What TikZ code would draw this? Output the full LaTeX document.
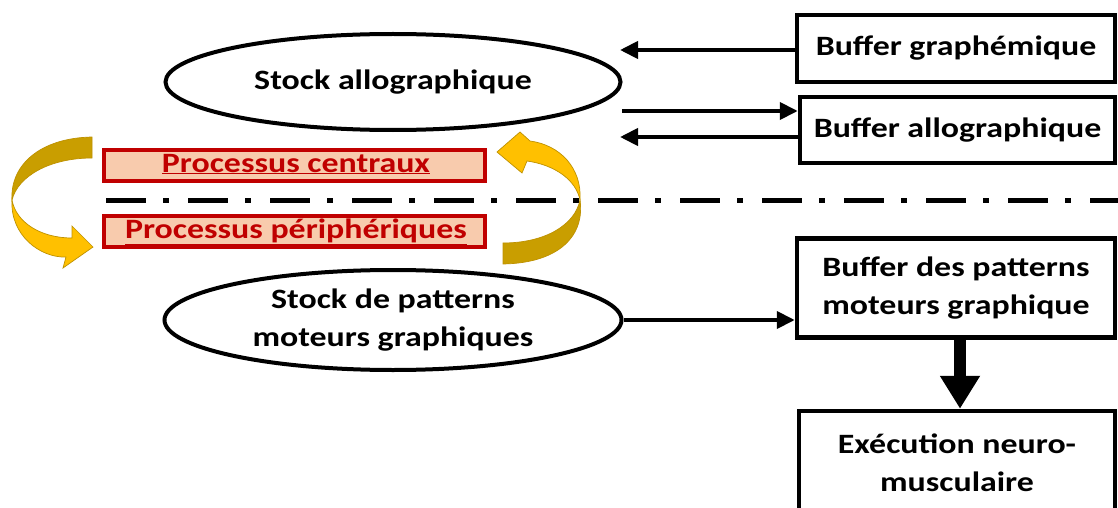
\documentclass[tikz,border=0pt]{standalone}
\usepackage{fontspec}
\setmainfont{Carlito}[FakeStretch=1.21]
\usetikzlibrary{arrows.meta,shapes.geometric}
\definecolor{boxred}{RGB}{192,0,0}
\definecolor{peach}{RGB}{248,203,173}
\definecolor{goldA}{RGB}{255,192,0}
\definecolor{goldB}{RGB}{201,158,0}
\definecolor{goldE}{RGB}{190,145,0}
\begin{document}
\begin{tikzpicture}[x=1pt,y=-1pt,
  lbl/.style={font=\bfseries\fontsize{28}{38}\selectfont, align=center, text=black},
  ebox/.style={draw, line width=4pt, ellipse, inner sep=0pt, lbl},
  rbox/.style={draw, line width=4.5pt, rectangle, inner sep=0pt, lbl},
  pbox/.style={fill=peach, inner sep=0pt, minimum width=381pt, minimum height=31pt},
  pborder/.style={draw=boxred, line width=4pt},
  ptext/.style={font=\bfseries\fontsize{28}{32}\selectfont, text=boxred, inner sep=0pt},
  conn/.style={line width=4pt, -{Triangle[length=18pt,width=17pt]}},
  bigconn/.style={line width=12pt, -{Triangle[length=33pt,width=38pt]}},
  sep/.style={line width=5pt, dash pattern=on 40pt off 17pt on 6pt off 19pt},
  goldlight/.style={fill=goldA, draw=goldE, line width=0.7pt},
  golddark/.style={fill=goldB, draw=goldE, line width=0.7pt}
]
\clip (0,0) rectangle (1118,508);
\fill[white] (0,0) rectangle (1118,508);

% ellipses
\node[ebox, minimum width=455pt, minimum height=96pt] (e1) at (393,82) {Stock allographique};
\node[ebox, minimum width=457pt, minimum height=100pt] (e2) at (393,320) {Stock de patterns\\moteurs graphiques};

% right boxes
\node[rbox, minimum width=318pt, minimum height=67pt] (b1) at (956,48.5) {Buffer graphémique};
\node[rbox, minimum width=315pt, minimum height=66pt] (b2) at (957.5,130) {Buffer allographique};
\node[rbox, minimum width=318pt, minimum height=99pt] (b3) at (956,288) {Buffer des patterns\\moteurs graphique};
\node[rbox, minimum width=316pt, minimum height=104pt] (b4) at (957,463) {Exécution neuro-\\musculaire};

% connectors
\coordinate (t1) at (620,50);
\coordinate (s2) at (622,111);
\coordinate (t3) at (620,137);
\draw[conn] (b1.west |- t1) -- (t1);
\draw[conn] (s2) -- (b2.west |- s2);
\draw[conn] (b2.west |- t3) -- (t3);
\draw[conn] (e2.east) -- (e2.east -| b3.west);
\draw[bigconn] (b3.south) ++(4,0) coordinate (d1) (d1) -- (d1 |- b4.north);

% separator
\coordinate (sepL) at (106,200);
\coordinate (sepR) at (1118,200);
\draw[sep] (sepL) -- (sepR);

% red boxes
\node[pbox] (pc) at (294.5,165.5) {};
\node[ptext, anchor=base] (pct) at (296,172) {\underline{Processus centraux}};
\draw[pborder] (pc.north west) rectangle (pc.south east);
\node[pbox] (pp) at (294.5,231.5) {};
\node[ptext, anchor=base] (ppt) at (296,238) {\underline{Processus périphériques}};
\draw[pborder] (pp.north west) rectangle (pp.south east);

% left curved arrow
\path[golddark] (92,137) .. controls (40,138) and (10,165) .. (12,200)
  .. controls (18,176) and (50,158) .. (92,158) -- cycle;
\path[goldlight] (12,200) .. controls (10,235) and (40,258) .. (66,257)
  -- (63,268) -- (93,247) -- (72,226) -- (72,238)
  .. controls (40,238) and (16,222) .. (12,200) -- cycle;

% right curved arrow
\path[golddark] (503,264) .. controls (560,263) and (585,235) .. (580,200)
  .. controls (575,225) and (545,243) .. (503,243) -- cycle;
\path[goldlight] (580,200) .. controls (582,168) and (560,145) .. (530,141)
  -- (520,132) -- (497,152) -- (522,173) -- (527,161)
  .. controls (555,165) and (576,180) .. (580,200) -- cycle;
\end{tikzpicture}
\end{document}
